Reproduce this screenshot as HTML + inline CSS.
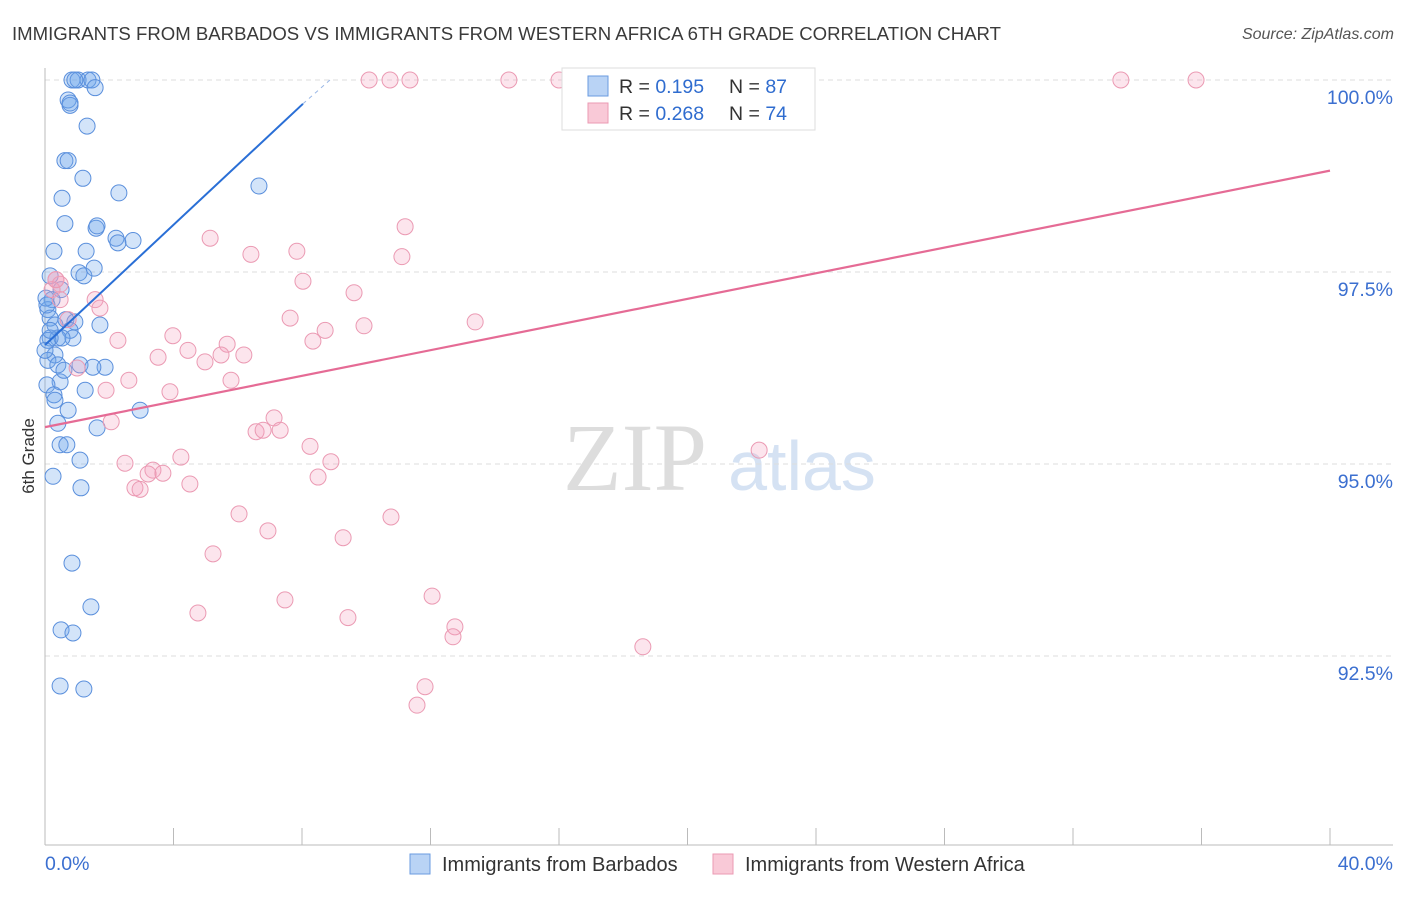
<!DOCTYPE html>
<html><head><meta charset="utf-8"><style>
body{margin:0;background:#fff;font-family:"Liberation Sans",sans-serif;}
</style></head><body>
<svg width="1406" height="892" xmlns="http://www.w3.org/2000/svg" font-family="Liberation Sans, sans-serif">
<text x="12" y="40" font-size="18.6" fill="#3a3a3a">IMMIGRANTS FROM BARBADOS VS IMMIGRANTS FROM WESTERN AFRICA 6TH GRADE CORRELATION CHART</text>
<text x="1394" y="39" font-size="16" fill="#555" text-anchor="end" font-style="italic">Source: ZipAtlas.com</text>
<g>
<text x="635" y="490" font-size="96" fill="#ddd" font-family="Liberation Serif, serif" text-anchor="middle">ZIP</text>
<text x="802" y="490" font-size="70" fill="#d5e2f3" text-anchor="middle">atlas</text>
</g>
<g id="grid"></g>
<g id="axes"></g>
<g id="pts"></g>
<g id="lines"></g>
<g>
<rect x="562" y="68" width="253" height="62" fill="#fff" stroke="#ddd"/>
<rect x="588" y="76" width="20" height="20" fill="#b9d3f5" stroke="#6a9be0"/>
<rect x="588" y="103" width="20" height="20" fill="#f9c9d7" stroke="#eb9ab3"/>
<text x="619" y="93" font-size="19.5" fill="#333">R = <tspan fill="#2f6ccf">0.195</tspan><tspan x="729">N = </tspan><tspan fill="#2f6ccf">87</tspan></text>
<text x="619" y="120" font-size="19.5" fill="#333">R = <tspan fill="#2f6ccf">0.268</tspan><tspan x="729">N = </tspan><tspan fill="#2f6ccf">74</tspan></text>
</g>
<text transform="translate(34,456) rotate(-90)" font-size="17" fill="#333" text-anchor="middle">6th Grade</text>
<text x="45" y="870" font-size="19.5" fill="#3b6fd0">0.0%</text>
<text x="1393" y="870" font-size="19.5" fill="#3b6fd0" text-anchor="end">40.0%</text>
<g>
<rect x="410" y="854" width="20" height="20" fill="#b9d3f5" stroke="#6a9be0"/>
<text x="442" y="871" font-size="20" fill="#333">Immigrants from Barbados</text>
<rect x="713" y="854" width="20" height="20" fill="#f9c9d7" stroke="#eb9ab3"/>
<text x="745" y="871" font-size="20" fill="#333">Immigrants from Western Africa</text>
</g>
</svg>
<script>
const yTicks=[100,97.5,95,92.5];
const yTickLabels=["100.0%","97.5%","95.0%","92.5%"];
const xTicks=[4,8,12,16,20,24,28,32,36,40];
const blueX=[0.84,1.03,1.34,1.46,0.93,1.56,0.72,0.78,0.78,1.31,0.62,0.72,1.18,0.53,2.30,6.66,0.62,1.59,1.62,2.21,2.74,2.27,0.28,1.28,1.06,1.21,1.53,0.16,0.50,0.22,0.09,0.16,0.31,0.65,0.93,1.71,0.78,0.40,0.16,0.87,0.53,0.31,0.09,0.40,1.09,1.87,1.49,0.47,0.06,0.28,0.31,1.25,2.96,0.72,0.40,1.62,0.47,0.68,1.09,0.25,1.12,0.84,1.43,0.50,0.87,0.47,1.21,0.09,0,0.03,0.06,0.16,0.59];
const blueY=[100,100,100,100,100,99.9,99.74,99.67,99.7,99.40,98.95,98.95,98.72,98.46,98.53,98.62,98.13,98.07,98.1,97.94,97.91,97.88,97.77,97.77,97.49,97.45,97.55,97.45,97.27,97.14,97.01,96.90,96.81,96.88,96.85,96.81,96.74,96.64,96.64,96.64,96.64,96.42,96.35,96.29,96.29,96.26,96.26,96.07,96.03,95.90,95.83,95.96,95.70,95.70,95.53,95.47,95.25,95.25,95.05,94.84,94.69,93.71,93.14,92.84,92.80,92.11,92.07,96.61,96.48,97.16,97.07,96.74,96.22];
const pinkX=[10.09,10.74,11.36,14.44,16.00,16.62,33.49,35.83,11.21,5.14,7.84,6.41,11.11,8.03,0.34,0.47,9.62,1.56,1.71,7.63,0.72,13.39,9.93,8.72,8.34,2.27,3.98,5.67,4.45,3.52,6.19,5.48,4.98,1.00,2.61,5.79,1.90,3.89,2.06,7.13,7.32,6.57,6.79,8.25,22.23,4.23,2.49,8.90,3.36,3.21,3.67,8.50,4.51,2.80,2.96,6.04,10.77,6.94,9.28,5.23,7.47,12.05,4.76,9.43,12.76,12.70,18.61,11.83,11.58,0.22,0.47,0.34];
const pinkY=[100,100,100,100,100,100,100,100,98.09,97.94,97.77,97.73,97.70,97.38,97.40,97.34,97.23,97.14,97.03,96.90,96.88,96.85,96.80,96.74,96.60,96.61,96.67,96.56,96.48,96.39,96.42,96.42,96.33,96.25,96.09,96.09,95.96,95.94,95.55,95.60,95.44,95.42,95.44,95.23,95.18,95.09,95.01,95.03,94.92,94.87,94.88,94.83,94.74,94.69,94.67,94.35,94.31,94.13,94.04,93.83,93.23,93.28,93.06,93.00,92.88,92.75,92.62,92.10,91.86,97.27,97.14,97.40];
const blueLineX=[0,8.03];const blueLineY=[96.55,99.69];
const blueDashX=[8.03,8.87];const blueDashY=[99.69,100];
const pinkLineX=[0,40];const pinkLineY=[95.48,98.82];
const X=v=>45+v*32.125, Y=v=>80+(100-v)*76.8;
const NS="http://www.w3.org/2000/svg";
function mk(t,a,p){const e=document.createElementNS(NS,t);for(const k in a)e.setAttribute(k,a[k]);p.appendChild(e);return e;}
const grid=document.getElementById('grid'),axes=document.getElementById('axes'),pts=document.getElementById('pts'),lines=document.getElementById('lines');
yTicks.forEach((t,i)=>{
 const l=mk('line',{x1:45,x2:1393,y1:Y(t),y2:Y(t),stroke:'#ddd','stroke-dasharray':'5,4'},grid);
 
 
 const tx=mk('text',{x:1393,y:Y(t)+24,'font-size':19.5,fill:'#3b6fd0','text-anchor':'end'},axes);
 tx.textContent=yTickLabels[i];
 
 
});
const ax=mk('line',{x1:45,x2:45,y1:68,y2:845,stroke:'#bbb'},axes);


const bx=mk('line',{x1:45,x2:1393,y1:845,y2:845,stroke:'#bbb'},axes);


xTicks.forEach(t=>{
 const l=mk('line',{x1:X(t),x2:X(t),y1:828,y2:845,stroke:'#bbb'},axes);
 
 
});
blueX.forEach((v,i)=>{
 const c=mk('circle',{cx:X(v),cy:Y(blueY[i]),r:8,fill:'rgba(110,165,235,0.3)',stroke:'#5a8fdc','stroke-width':1},pts);
 
 
});
pinkX.forEach((v,i)=>{
 const c=mk('circle',{cx:X(v),cy:Y(pinkY[i]),r:8,fill:'rgba(245,160,190,0.28)',stroke:'#eb9ab3','stroke-width':1},pts);
 
 
});
const b=mk('line',{x1:X(blueLineX[0]),y1:Y(blueLineY[0]),x2:X(blueLineX[1]),y2:Y(blueLineY[1]),stroke:'#2a6fd6','stroke-width':2},lines);


const bd=mk('line',{x1:X(blueDashX[0]),y1:Y(blueDashY[0]),x2:X(blueDashX[1]),y2:Y(blueDashY[1]),stroke:'#9bb8e6','stroke-width':1,'stroke-dasharray':'4,4'},lines);


const p=mk('line',{x1:X(pinkLineX[0]),y1:Y(pinkLineY[0]),x2:X(pinkLineX[1]),y2:Y(pinkLineY[1]),stroke:'#e56b95','stroke-width':2.2},lines);


</script>
</body></html>
